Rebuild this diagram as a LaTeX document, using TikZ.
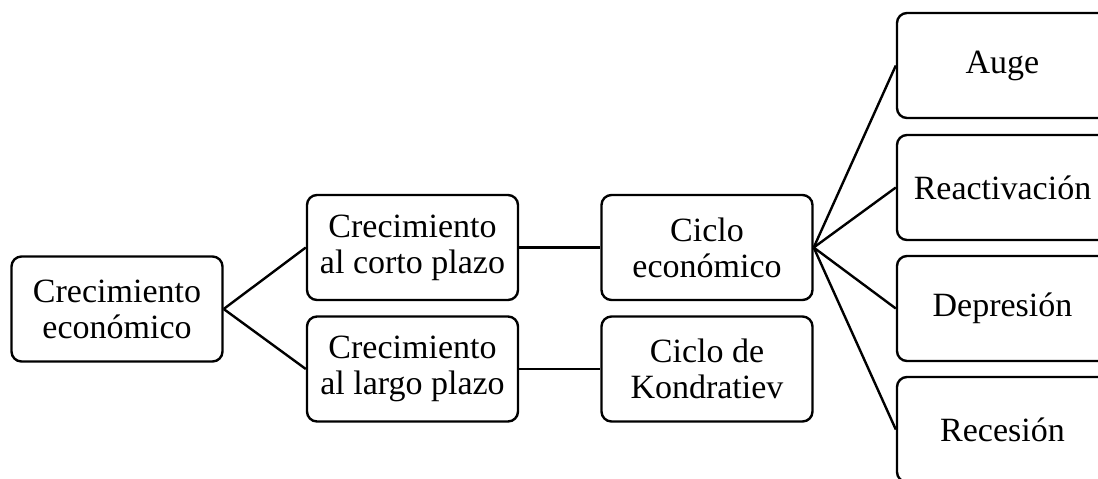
\documentclass[tikz,border=0pt]{standalone}
\usepackage{fontspec}
\setmainfont{Liberation Serif}
\begin{document}
\begin{tikzpicture}[x=0.5pt,y=-0.5pt,
    box/.style={draw,line width=1.2pt,rounded corners=5pt,align=center,
      font=\fontsize{17}{18}\selectfont,inner sep=0pt,
      minimum width=105.5pt,minimum height=52.5pt}]
      \useasboundingbox (0,0) rectangle (1098,478);
      \clip (0,0) rectangle (1098,478);
      \draw
        (117,309) node[box] (crec){Crecimiento\\econ\'omico}
        (412.5,247.5) node[box] (corto){Crecimiento\\al corto plazo}
        (412.5,369) node[box] (largo){Crecimiento\\al largo plazo}
        (707,247.5) node[box] (ciclo){Ciclo\\econ\'omico}
        (707,369) node[box] (kond){Ciclo de\\Kondratiev}
        (1002.5,65.5) node[box] (auge){Auge}
        (1002.5,187.5) node[box] (react){Reactivaci\'on}
        (1002.5,308.5) node[box] (depr){Depresi\'on}
        (1002.5,429.5) node[box] (rece){Recesi\'on};
      \begin{scope}[-,line width=1.2pt]
        \draw (crec.east) to (corto.west);
        \draw (crec.east) to (largo.west);
        \draw (corto) to (ciclo);
        \draw (largo) to (kond);
        \draw (ciclo.east) to (auge.west);
        \draw (ciclo.east) to (react.west);
        \draw (ciclo.east) to (depr.west);
        \draw (ciclo.east) to (rece.west);
      \end{scope}
    \end{tikzpicture}
\end{document}
